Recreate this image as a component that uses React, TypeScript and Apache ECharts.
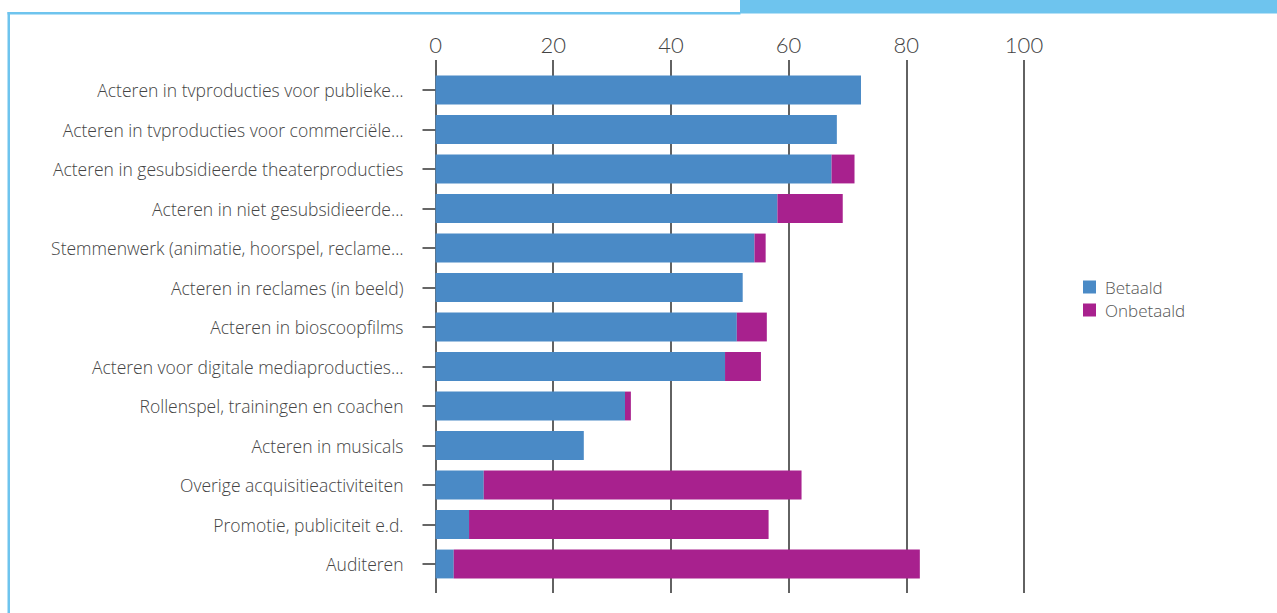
import React, { useEffect, useRef } from "react";
import * as echarts from "echarts";

const categories = [
  "Acteren in tvproducties voor publieke…",
  "Acteren in tvproducties voor commerciële…",
  "Acteren in gesubsidieerde theaterproducties",
  "Acteren in niet gesubsidieerde…",
  "Stemmenwerk (animatie, hoorspel, reclame…",
  "Acteren in reclames (in beeld)",
  "Acteren in bioscoopfilms",
  "Acteren voor digitale mediaproducties…",
  "Rollenspel, trainingen en coachen",
  "Acteren in musicals",
  "Overige acquisitieactiviteiten",
  "Promotie, publiciteit e.d.",
  "Auditeren",
];
const betaald = [72.3, 68.2, 67.3, 58.1, 54.2, 52.2, 51.2, 49.2, 32.2, 25.2, 8.2, 5.7, 3.1];
const onbetaald = [0, 0, 3.9, 11.1, 1.9, 0, 5.1, 6.1, 1, 0, 54, 50.9, 79.2];
const xTicks = { min: 0, max: 100, interval: 20 };

const FONT = "Lato, 'Open Sans', sans-serif";
const LABEL_FONT = "'Open Sans', Lato, sans-serif";

export default function App() {
  const ref = useRef<HTMLDivElement>(null);
  useEffect(() => {
    if (!ref.current) return;
    const chart = echarts.init(ref.current, undefined, { renderer: "svg" });
    chart.setOption({
      animation: false,
      backgroundColor: "#ffffff",
      textStyle: { fontFamily: FONT },
      legend: {
        orient: "vertical",
        left: 1083,
        top: 278,
        padding: 0,
        itemWidth: 13,
        itemHeight: 13,
        itemGap: 5,
        icon: "rect",
        textStyle: {
          fontSize: 17,
          color: "#555",
          fontWeight: 300,
          fontFamily: LABEL_FONT,
          lineHeight: 18,
          padding: [0, 0, 0, 4],
        },
        data: ["Betaald", "Onbetaald"],
      },
      grid: [
        { left: 435.5, right: 253, top: 60, bottom: 20 },
        { left: 435.5, right: 253, top: 70.25, bottom: 29.25 },
      ],
      xAxis: [
        {
          gridIndex: 0,
          type: "value",
          position: "top",
          min: xTicks.min,
          max: xTicks.max,
          interval: xTicks.interval,
          axisLine: { show: false },
          axisTick: { show: false },
          splitLine: { show: true, lineStyle: { color: "#2e2e2e", width: 1.5 } },
          axisLabel: { fontSize: 22, color: "#444", fontWeight: 300, margin: 5, fontFamily: FONT },
        },
        {
          gridIndex: 1,
          type: "value",
          min: xTicks.min,
          max: xTicks.max,
          interval: xTicks.interval,
          show: false,
          splitLine: { show: false },
        },
      ],
      yAxis: [
        {
          gridIndex: 0,
          type: "value",
          show: false,
          splitLine: { show: false },
        },
        {
          gridIndex: 1,
          type: "category",
          inverse: true,
          data: categories,
          axisLine: { show: false },
          axisTick: { show: true, length: 13, alignWithLabel: true, lineStyle: { color: "#333", width: 1.5 } },
          axisLabel: {
            fontSize: 17.5,
            color: "#444",
            fontWeight: 300,
            margin: 32,
            fontFamily: LABEL_FONT,
            padding: [0, 0, 3, 0],
          },
        },
      ],
      series: [
        {
          name: "Betaald",
          type: "bar",
          stack: "s",
          xAxisIndex: 1,
          yAxisIndex: 1,
          barWidth: "73%",
          itemStyle: { color: "#4a8ac6" },
          data: betaald,
        },
        {
          name: "Onbetaald",
          type: "bar",
          stack: "s",
          xAxisIndex: 1,
          yAxisIndex: 1,
          barWidth: "73%",
          itemStyle: { color: "#a8218e" },
          data: onbetaald,
        },
      ],
      graphic: [
        { type: "rect", shape: { x: 740, y: 0, width: 537, height: 13.5 }, style: { fill: "#6ec4ee" } },
        { type: "rect", shape: { x: 7.5, y: 12, width: 733, height: 2.5 }, style: { fill: "#6ec4ee" } },
        { type: "rect", shape: { x: 7.5, y: 12, width: 2.5, height: 601 }, style: { fill: "#6ec4ee" } },
      ],
    });
    return () => chart.dispose();
  }, []);
  return (
    <div
      ref={ref}
      style={{ position: "fixed", left: 0, top: 0, width: 1277, height: 613 }}
    />
  );
}
